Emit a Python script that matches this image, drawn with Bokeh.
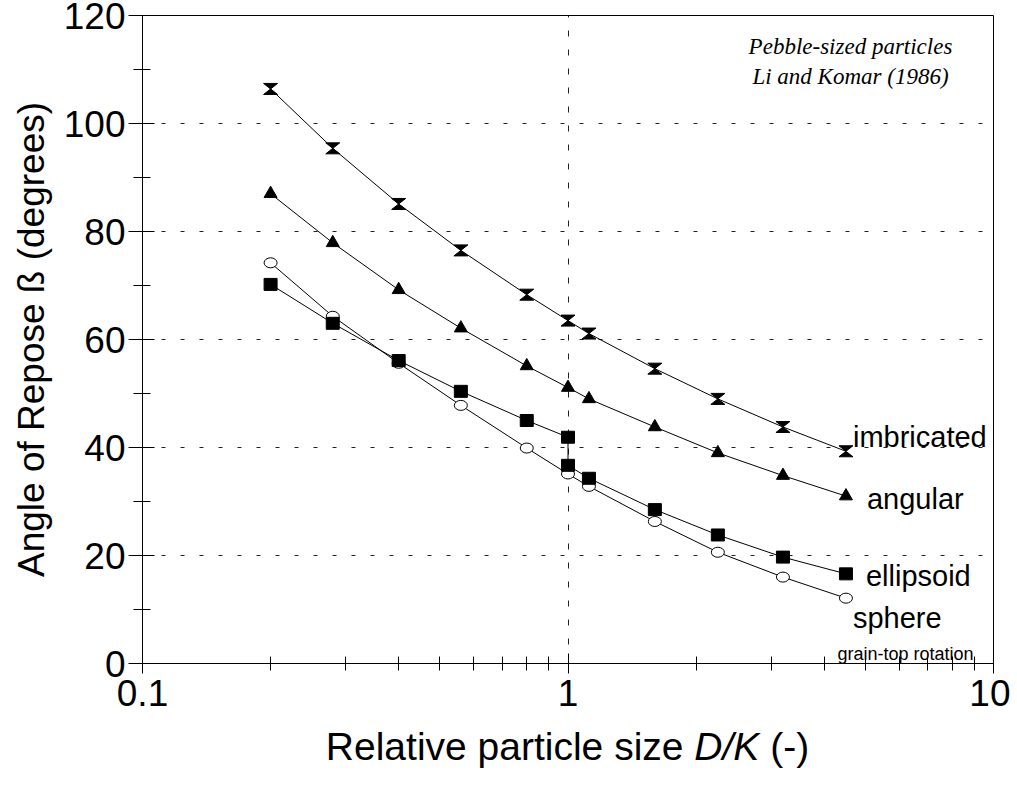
import numpy as np
from bokeh.plotting import figure
from bokeh.layouts import column
from bokeh.models import FixedTicker, CustomJSTickFormatter, Label, Range1d, Div
from bokeh.embed import file_html
from bokeh.resources import INLINE

# ---------------- data ----------------
size_x = [0.2, 0.28, 0.4, 0.56, 0.8, 1.0, 1.12, 1.6, 2.25, 3.2, 4.5]
imbricated = [106.4, 95.4, 85.1, 76.5, 68.3, 63.5, 61.1, 54.6, 49.0, 43.8, 39.3]
angular = [87.0, 77.9, 69.2, 62.1, 55.1, 51.1, 49.0, 43.8, 39.0, 34.8, 31.0]
ellipsoid_x = [0.2, 0.28, 0.4, 0.56, 0.8, 1.0, 1.0, 1.12, 1.6, 2.25, 3.2, 4.5]
ellipsoid = [70.2, 63.0, 56.1, 50.4, 45.0, 41.9, 36.7, 34.3, 28.5, 23.8, 19.7, 16.6]
sphere = [74.2, 64.3, 55.6, 47.8, 39.9, 35.1, 32.8, 26.3, 20.6, 16.0, 12.1]

x_major = [0.1, 1, 10]
x_minor = [0.2, 0.3, 0.4, 0.5, 0.6, 0.7, 0.8, 0.9, 2, 3, 4, 5, 6, 7, 8, 9]
y_major = [0, 20, 40, 60, 80, 100, 120]
y_minor = [10, 30, 50, 70, 90, 110]

series_names = ["imbricated", "angular", "ellipsoid", "sphere"]
note_lines = ["Pebble-sized particles", "Li and Komar (1986)"]
small_note = "grain-top rotation"
y_title = "Angle of Repose \u00df (degrees)"
x_title_html = "Relative particle size <i>D/K</i> (-)"

# ---------------- figure ----------------
W, H = 1010, 727
ML, MR, MT, MB = 142, 17, 15, 64
FW = W - ML - MR
FH = H - MT - MB

p = figure(width=W, height=H, x_axis_type="log",
           x_range=Range1d(0.1, 10), y_range=Range1d(0, 120),
           output_backend="svg", toolbar_location=None,
           min_border_left=ML, min_border_right=MR,
           min_border_top=MT, min_border_bottom=MB)
p.background_fill_color = "white"
p.border_fill_color = "white"
p.outline_line_color = "black"
p.outline_line_width = 1

FONT = "Liberation Sans"
TICK_FS = "37px"

p.xaxis.ticker = FixedTicker(ticks=x_major, minor_ticks=x_minor)
p.xaxis.formatter = CustomJSTickFormatter(code="return tick >= 1 ? tick.toFixed(0) : tick.toFixed(1);")
p.yaxis.ticker = FixedTicker(ticks=y_major, minor_ticks=y_minor)

for ax in (p.xaxis[0], p.yaxis[0]):
    ax.axis_line_color = "black"
    ax.axis_line_width = 1
    ax.major_tick_line_color = "black"
    ax.minor_tick_line_color = "black"
    ax.major_label_text_font = FONT
    ax.major_label_text_font_size = TICK_FS
    ax.major_label_text_color = "black"
    ax.major_label_text_font_style = "normal"

p.xaxis.major_tick_in = 10
p.xaxis.major_tick_out = 10
p.xaxis.minor_tick_in = 7
p.xaxis.minor_tick_out = 7
p.xaxis.major_label_standoff = 6

p.yaxis.major_tick_in = 12
p.yaxis.major_tick_out = 14
p.yaxis.minor_tick_in = 8
p.yaxis.minor_tick_out = 9
p.yaxis.major_label_standoff = 3

p.yaxis.axis_label = y_title
p.yaxis.axis_label_text_font = FONT
p.yaxis.axis_label_text_font_size = "37px"
p.yaxis.axis_label_text_font_style = "normal"
p.yaxis.axis_label_text_color = "black"
p.yaxis.axis_label_standoff = 9

p.xgrid.ticker = FixedTicker(ticks=[1])
p.xgrid.grid_line_color = "#222222"
p.xgrid.grid_line_dash = "6 13"
p.xgrid.grid_line_width = 1
p.ygrid.grid_line_color = "#222222"
p.ygrid.grid_line_dash = "4 15"
p.ygrid.grid_line_width = 1

# ---------------- lines ----------------
for xs, ys in ((size_x, sphere), (ellipsoid_x, ellipsoid), (size_x, angular), (size_x, imbricated)):
    p.line(xs, ys, line_color="black", line_width=1)

# ---------------- markers ----------------
p.ellipse(size_x, sphere, width=13, height=10, width_units="screen", height_units="screen",
          fill_color="white", line_color="black", line_width=1)
p.rect(ellipsoid_x, ellipsoid, width=13, height=12, width_units="screen", height_units="screen",
       fill_color="black", line_color="black")
p.scatter(size_x, angular, marker="triangle", size=13, fill_color="black", line_color="black")

# hourglass markers (bow-tie polygons), half width/height expressed via the axis scales
px_per_decade = FW / 2.0
px_per_unit = FH / 120.0
f = 10 ** (7.0 / px_per_decade)
dy = 5.5 / px_per_unit
hx = [[x / f, x * f, x / f, x * f] for x in size_x]
hy = [[y + dy, y + dy, y - dy, y - dy] for y in imbricated]
p.patches(hx, hy, fill_color="black", line_color="black", line_width=1)

# ---------------- series labels ----------------
lab_style = dict(text_font=FONT, text_font_size="29px", text_color="black",
                 text_baseline="alphabetic", text_align="left")
ends = [(size_x[-1], imbricated[-1], 7, 14),
        (size_x[-1], angular[-1], 21, -3),
        (ellipsoid_x[-1], ellipsoid[-1], 20, -2),
        (size_x[-1], sphere[-1], 7, -20)]
for name, (ex, ey, ox, oy) in zip(series_names, ends):
    p.add_layout(Label(x=ex, y=ey, x_offset=ox, y_offset=oy, text=name, **lab_style))

# ---------------- notes ----------------
for i, line in enumerate(note_lines):
    p.add_layout(Label(x=708, y=FH - 31 - 30 * i, x_units="screen", y_units="screen",
                       text=line, text_font="Liberation Serif", text_font_style="italic",
                       text_font_size="23px", text_color="black",
                       text_align="center", text_baseline="alphabetic"))

p.add_layout(Label(x=FW - 20, y=10, x_units="screen", y_units="screen", text=small_note,
                   text_font=FONT, text_font_size="18px", text_color="black",
                   text_align="right", text_baseline="alphabetic"))

# ---------------- x title (mixed italic) as HTML below the figure ----------------
div = Div(
    text=(f'<div style="width:{FW}px;margin-left:{ML}px;text-align:center;'
          f'font-family:\'Liberation Sans\';font-size:39px;line-height:39px;'
          f'color:black;white-space:nowrap;">{x_title_html}</div>'),
    width=W, height=50, margin=(0, 0, 0, 0))

layout = column(p, div, spacing=0)
open("out.html", "w").write(file_html(layout, INLINE))
